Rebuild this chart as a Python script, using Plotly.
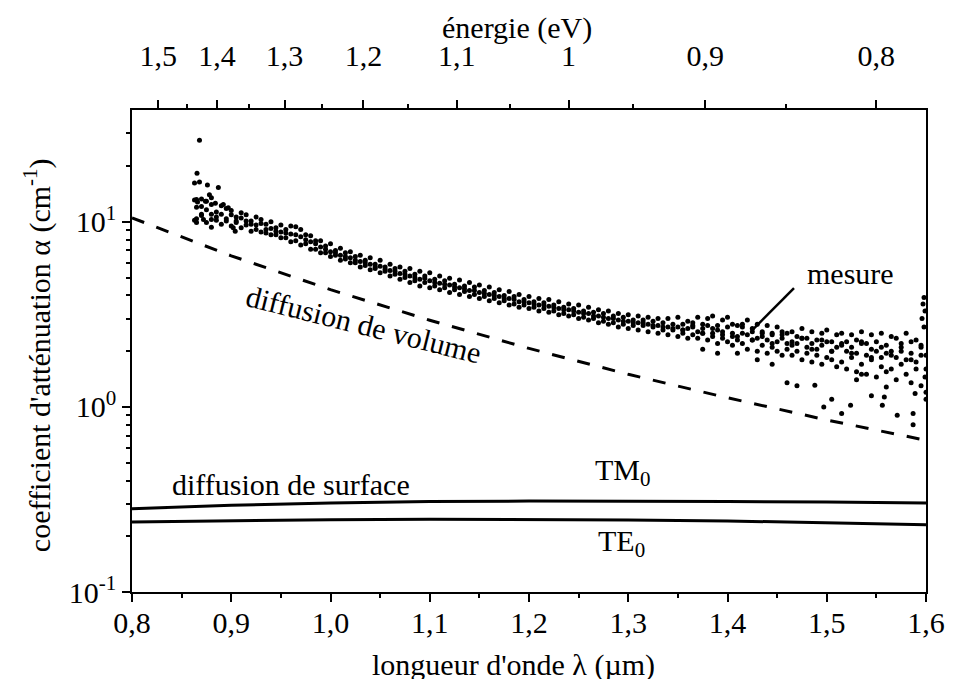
import plotly.graph_objs as go

# measured attenuation (three runs on the same wavelength grid), um / cm-1
wl = [0.865, 0.870, 0.875, 0.880, 0.885, 0.890, 0.895, 0.900, 0.905, 0.910,
      0.915, 0.920, 0.925, 0.930, 0.935, 0.940, 0.945, 0.950, 0.955, 0.960,
      0.965, 0.970, 0.975, 0.980, 0.985, 0.990, 0.995, 1.000, 1.005, 1.010,
      1.015, 1.020, 1.025, 1.030, 1.035, 1.040, 1.045, 1.050, 1.055, 1.060,
      1.065, 1.070, 1.075, 1.080, 1.085, 1.090, 1.095, 1.100, 1.105, 1.110,
      1.115, 1.120, 1.125, 1.130, 1.135, 1.140, 1.145, 1.150, 1.155, 1.160,
      1.165, 1.170, 1.175, 1.180, 1.185, 1.190, 1.195, 1.200, 1.205, 1.210,
      1.215, 1.220, 1.225, 1.230, 1.235, 1.240, 1.245, 1.250, 1.255, 1.260,
      1.265, 1.270, 1.275, 1.280, 1.285, 1.290, 1.295, 1.300, 1.305, 1.310,
      1.315, 1.320, 1.325, 1.330, 1.335, 1.340, 1.345, 1.350, 1.355, 1.360,
      1.365, 1.370, 1.375, 1.380, 1.385, 1.390, 1.395, 1.400, 1.405, 1.410,
      1.415, 1.420, 1.425, 1.430, 1.435, 1.440, 1.445, 1.450, 1.455, 1.460,
      1.465, 1.470, 1.475, 1.480, 1.485, 1.490, 1.495, 1.500, 1.505, 1.510,
      1.515, 1.520, 1.525, 1.530, 1.535, 1.540, 1.545, 1.550, 1.555, 1.560,
      1.565, 1.570, 1.575, 1.580, 1.585, 1.590, 1.595, 1.600]

run1 = [13.2, 12.1, 11.6, 12.4, 11.3, 11.0, 11.8, 10.9, 10.6, 11.2,
        10.9, 10.1, 10.6, 9.8, 9.7, 10.0, 9.3, 9.6, 9.1, 9.5,
        9.4, 9.1, 8.5, 8.4, 7.9, 7.9, 7.4, 7.6, 7.0, 7.2,
        6.8, 6.9, 6.5, 6.6, 6.2, 6.4, 5.9, 6.2, 5.7, 5.9,
        5.6, 5.7, 5.4, 5.6, 5.2, 5.4, 5.1, 5.3, 4.9, 5.1,
        4.8, 4.95, 4.6, 4.85, 4.5, 4.7, 4.45, 4.55, 4.25, 4.45,
        4.15, 4.3, 4.0, 4.2, 3.95, 4.05, 3.8, 3.95, 3.7, 3.85,
        3.65, 3.8, 3.55, 3.7, 3.45, 3.6, 3.4, 3.55, 3.3, 3.45,
        3.25, 3.35, 3.2, 3.3, 3.1, 3.2, 3.05, 3.15, 2.95, 3.1,
        2.95, 3.05, 2.9, 3.0, 2.85, 3.0, 2.8, 3.05, 2.8, 2.9,
        2.85, 3.05, 2.8, 3.0, 3.1, 2.75, 2.95, 3.05, 2.8, 2.75,
        2.8, 2.95, 2.65, 2.8, 2.55, 2.75, 2.5, 2.7, 2.55, 2.5,
        2.55, 2.4, 2.65, 2.35, 2.55, 2.3, 2.5, 2.6, 2.25, 2.45,
        2.5, 2.25, 2.45, 2.3, 2.55, 2.2, 2.45, 2.25, 2.5, 2.15,
        2.4, 2.35, 2.2, 2.5, 2.25, 2.3, 2.1, 1.9]

run2 = [10.4, 11.0, 9.9, 10.3, 10.6, 9.7, 10.1, 9.5, 9.9, 9.3,
        9.6, 8.9, 9.1, 8.8, 8.7, 8.5, 8.5, 8.2, 8.2, 7.8,
        7.9, 7.5, 7.6, 7.1, 7.1, 6.8, 6.8, 6.5, 6.6, 6.2,
        6.3, 6.0, 6.0, 5.7, 5.8, 5.5, 5.6, 5.3, 5.4, 5.1,
        5.2, 4.9, 5.0, 4.7, 4.8, 4.5, 4.7, 4.4, 4.5, 4.3,
        4.4, 4.15, 4.3, 4.05, 4.2, 3.95, 4.05, 3.85, 3.95, 3.75,
        3.85, 3.65, 3.75, 3.55, 3.6, 3.45, 3.55, 3.4, 3.45, 3.3,
        3.4, 3.25, 3.3, 3.15, 3.2, 3.1, 3.15, 3.0, 3.05, 2.95,
        3.0, 2.85, 2.9, 2.8, 2.85, 2.7, 2.8, 2.65, 2.75, 2.6,
        2.75, 2.55, 2.7, 2.5, 2.6, 2.45, 2.6, 2.4, 2.5, 2.35,
        2.45, 2.35, 2.5, 2.3, 2.4, 2.2, 2.35, 2.25, 2.15, 2.3,
        2.2, 2.05, 2.3, 2.0, 2.15, 1.95, 2.1, 2.0, 1.9, 2.05,
        1.9, 2.0, 1.8, 1.95, 1.75, 1.9, 1.7, 1.85, 1.8, 1.65,
        1.75, 1.6, 1.85, 1.55, 1.7, 1.5, 1.8, 1.45, 1.65, 1.55,
        1.6, 1.4, 1.7, 1.5, 1.35, 1.6, 1.3, 1.2]

run3 = [12.0, 10.8, 12.9, 11.0, 10.2, 12.2, 10.4, 11.5, 10.1, 10.5,
        10.1, 9.7, 9.6, 10.3, 9.1, 9.2, 8.9, 8.8, 8.7, 8.6,
        8.5, 8.3, 8.0, 7.8, 7.6, 7.3, 7.1, 6.9, 6.8, 6.6,
        6.5, 6.4, 6.2, 6.1, 6.0, 5.9, 5.7, 5.75, 5.55, 5.45,
        5.4, 5.25, 5.2, 5.1, 5.0, 4.9, 4.95, 4.8, 4.7, 4.65,
        4.6, 4.55, 4.45, 4.4, 4.35, 4.25, 4.25, 4.15, 4.1, 4.05,
        4.0, 3.95, 3.85, 3.85, 3.8, 3.7, 3.7, 3.65, 3.6, 3.55,
        3.55, 3.5, 3.45, 3.4, 3.35, 3.35, 3.3, 3.25, 3.2, 3.2,
        3.1, 3.1, 3.05, 3.0, 3.0, 2.95, 2.9, 2.9, 2.85, 2.85,
        2.85, 2.8, 2.75, 2.75, 2.7, 2.7, 2.65, 2.7, 2.6, 2.65,
        2.7, 2.55, 2.65, 2.75, 2.5, 2.6, 2.45, 2.7, 2.5, 2.4,
        2.5, 2.45, 2.55, 2.35, 2.4, 2.3, 2.45, 2.25, 2.35, 2.2,
        2.25, 2.2, 2.35, 2.1, 2.2, 2.05, 2.15, 2.25, 2.0, 2.1,
        2.15, 2.0, 2.1, 1.95, 2.2, 1.9, 2.05, 2.0, 1.85, 1.95,
        2.0, 1.85, 2.1, 1.8, 1.95, 1.75, 1.9, 1.6]

# extra points in the noisy long-wavelength part
wl_mid = [1.355, 1.365, 1.375, 1.385, 1.395, 1.405, 1.415, 1.425, 1.435, 1.445,
          1.455, 1.465, 1.475, 1.485, 1.495, 1.505, 1.515, 1.525, 1.535, 1.545,
          1.555, 1.565, 1.575, 1.585, 1.595]
alpha_mid = [2.6, 2.75, 2.5, 2.65, 2.55, 2.4, 2.7, 2.3, 2.5, 2.2,
             2.45, 2.15, 2.35, 2.05, 2.3, 2.0, 2.2, 1.95, 2.25, 1.85,
             2.1, 1.9, 2.0, 1.8, 2.15]

# isolated points
wl_out = [0.863, 0.8655, 0.868, 0.876, 0.887, 0.863, 0.866, 0.870, 0.874, 0.880,
          0.863, 0.865, 0.872, 0.868, 0.878, 0.884, 0.892, 0.897, 0.904, 0.902,
          0.880, 1.375, 1.39, 1.41, 1.43, 1.445, 1.46, 1.47, 1.488, 1.497,
          1.505, 1.515, 1.524, 1.53, 1.535, 1.545, 1.556, 1.558, 1.56, 1.571,
          1.587, 1.587, 1.589, 1.596, 1.597, 1.598, 1.599, 1.600, 1.599, 1.598]
alpha_out = [16.2, 18.3, 16.4, 15.8, 15.3, 13.1, 12.8, 13.3, 12.9, 13.5,
             10.2, 9.9, 10.3, 27.6, 14.0, 12.6, 12.4, 11.9, 8.9, 9.3,
             9.35, 2.05, 1.95, 1.95, 1.8, 1.7, 1.35, 1.3, 1.31, 1.0,
             1.1, 0.92, 1.02, 1.4, 1.5, 1.15, 1.02, 1.13, 1.28, 0.9,
             0.92, 0.8, 1.18, 3.0, 3.6, 3.9, 3.3, 1.1, 1.45, 2.7]

# volume scattering (dashed)
vol_wl = [0.8, 0.9, 1.0, 1.1, 1.2, 1.3, 1.4, 1.5, 1.6]
vol_alpha = [10.5, 6.55, 4.30, 2.94, 2.07, 1.50, 1.12, 0.85, 0.66]

# surface scattering, TM0 and TE0
surf_wl = [0.8, 0.9, 1.0, 1.1, 1.2, 1.3, 1.4, 1.5, 1.6]
tm0 = [0.282, 0.294, 0.303, 0.308, 0.310, 0.310, 0.308, 0.306, 0.303]
te0 = [0.239, 0.243, 0.246, 0.247, 0.247, 0.245, 0.242, 0.237, 0.231]

# "mesure" pointer
ptr_wl = [1.467, 1.425]
ptr_alpha = [4.38, 2.60]

# top axis: photon energy
energies = [1.5, 1.4, 1.3, 1.2, 1.1, 1.0, 0.9, 0.8]
energy_labels = ['1,5', '1,4', '1,3', '1,2', '1,1', '1', '0,9', '0,8']
energies_minor = [1.45, 1.35, 1.25, 1.15, 1.05, 0.95, 0.85]

FONT = 'Times New Roman, Liberation Serif, serif'
FS = 30

fig = go.Figure()
dot = dict(color='black', size=5)
for ys in (run1, run2, run3):
    fig.add_trace(go.Scatter(x=wl, y=ys, mode='markers', marker=dot))
fig.add_trace(go.Scatter(x=wl_mid, y=alpha_mid, mode='markers', marker=dot))
fig.add_trace(go.Scatter(x=wl_out, y=alpha_out, mode='markers', marker=dot))
fig.add_trace(go.Scatter(x=vol_wl, y=vol_alpha, mode='lines',
                         line=dict(color='black', width=3, dash='13px,13px')))
fig.add_trace(go.Scatter(x=surf_wl, y=tm0, mode='lines', line=dict(color='black', width=3)))
fig.add_trace(go.Scatter(x=surf_wl, y=te0, mode='lines', line=dict(color='black', width=3)))
fig.add_trace(go.Scatter(x=ptr_wl, y=ptr_alpha, mode='lines', line=dict(color='black', width=2.5)))
# invisible helper so the top axis gets drawn
fig.add_trace(go.Scatter(x=vol_wl, y=vol_alpha, xaxis='x2', mode='markers',
                         marker=dict(opacity=0), hoverinfo='skip'))

ax_common = dict(showline=True, linecolor='black', linewidth=1.5, showgrid=False,
                 zeroline=False, ticks='outside', ticklen=8, tickwidth=1.5,
                 tickcolor='black', tickfont=dict(family=FONT, size=FS, color='black'))

fig.update_layout(
    width=957, height=679,
    margin=dict(l=132, r=21, t=110, b=87),
    paper_bgcolor='white', plot_bgcolor='white',
    showlegend=False,
    separators=', ',
    font=dict(family=FONT, size=FS, color='black'),
    xaxis=dict(range=[0.8, 1.6], tickmode='array',
               tickvals=[0.8, 0.9, 1.0, 1.1, 1.2, 1.3, 1.4, 1.5, 1.6],
               tickformat='.1f', ticklabelstandoff=-5,
               minor=dict(tickmode='array',
                          tickvals=[0.85, 0.95, 1.05, 1.15, 1.25, 1.35, 1.45, 1.55],
                          ticks='outside', ticklen=4, tickwidth=1.5, tickcolor='black'),
               **ax_common),
    xaxis2=dict(range=[0.8, 1.6], overlaying='x', side='top', anchor='y',
                tickmode='array', tickvals=[1.2398 / e for e in energies],
                ticktext=energy_labels, ticklabelstandoff=22,
                minor=dict(tickmode='array',
                           tickvals=[1.2398 / e for e in energies_minor],
                           ticks='outside', ticklen=4, tickwidth=1.5, tickcolor='black'),
                **ax_common),
    yaxis=dict(type='log', range=[-1, 1.604], tickmode='array',
               tickvals=[0.1, 1, 10],
               ticktext=['10<sup>-1</sup>', '10<sup>0</sup>', '10<sup>1</sup>'],
               minor=dict(tickmode='array',
                          tickvals=[0.2, 0.3, 0.4, 0.5, 0.6, 0.7, 0.8, 0.9,
                                    2, 3, 4, 5, 6, 7, 8, 9, 20, 30],
                          ticks='outside', ticklen=4, tickwidth=1.5, tickcolor='black'),
               mirror=True, **ax_common),
)

txt = dict(xref='paper', yref='paper', showarrow=False, xanchor='center', yanchor='middle',
           font=dict(family=FONT, size=FS, color='black'))
fig.add_annotation(text='énergie (eV)', x=0.485, y=1.170, **txt)
fig.add_annotation(text="longueur d'onde λ (µm)", x=0.481, y=-0.151, **txt)
fig.add_annotation(text="coefficient d'atténuation α (cm<sup>-1</sup>)",
                   x=-0.118, y=0.492, textangle=-90, **txt)
fig.add_annotation(text='mesure', x=0.905, y=0.660, **txt)
fig.add_annotation(text='diffusion de volume', x=0.292, y=0.554, textangle=14, **txt)
fig.add_annotation(text='diffusion de surface', x=0.200, y=0.222, **txt)
fig.add_annotation(text='TM<sub>0</sub>', x=0.619, y=0.250, **txt)
fig.add_annotation(text='TE<sub>0</sub>', x=0.616, y=0.102, **txt)

# drop the default 8px page margin so the figure sits at the window origin
fig.write_html('out.html', config={'displayModeBar': False},
               post_script="document.body.style.margin='0';")
